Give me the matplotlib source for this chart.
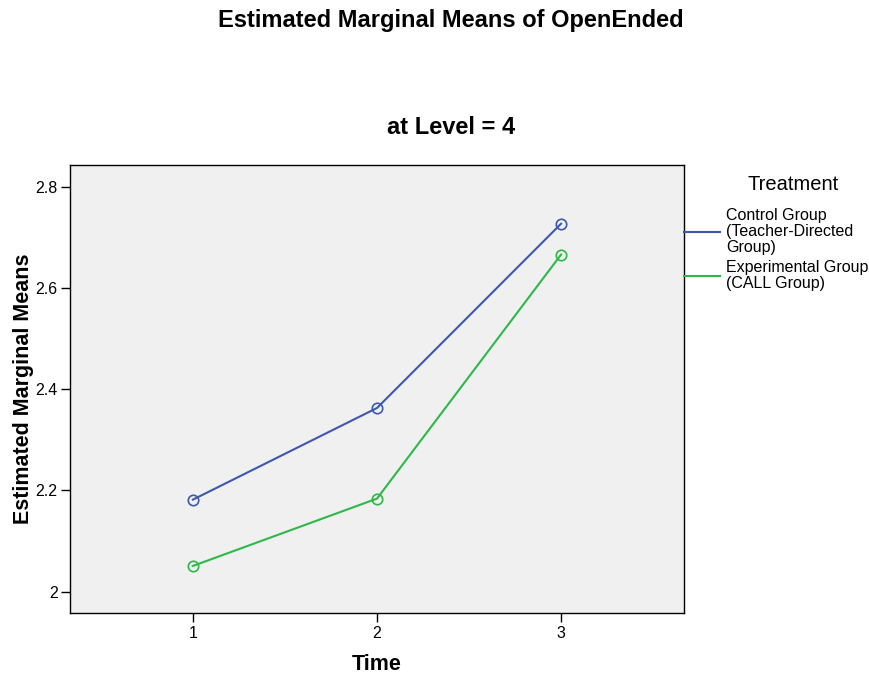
import matplotlib
matplotlib.use("Agg")
import matplotlib.pyplot as plt
from matplotlib.lines import Line2D

plt.rcParams["font.family"] = ["Liberation Sans", "DejaVu Sans"]

# data
time = [1, 2, 3]
control = [2.182, 2.363, 2.727]
experimental = [2.051, 2.184, 2.666]
labels = ["Control Group\n(Teacher-Directed\nGroup)", "Experimental Group\n(CALL Group)"]
colors = ["#3e58ac", "#2eb848"]
yticks = [2.0, 2.2, 2.4, 2.6, 2.8]
ytick_labels = ["2", "2.2", "2.4", "2.6", "2.8"]

fig = plt.figure(figsize=(8.69, 6.76), dpi=100)
ax = fig.add_axes([70/869, 63/676, 614/869, 448/676])
ax.set_facecolor("#f0f0f0")

handles = []
for vals, c in zip([control, experimental], colors):
    ax.plot(time, vals, color=c, lw=1.5, marker="o", markersize=7.5,
            markerfacecolor="none", markeredgecolor=c, markeredgewidth=1.2)
    handles.append(Line2D([], [], color=c, lw=1.5))

ax.set_xlim(0.332, 3.668)
ax.set_ylim(1.958, 2.843)
ax.set_xticks(time)
ax.set_xticklabels(["1", "2", "3"])
ax.set_yticks(yticks)
ax.set_yticklabels(ytick_labels)
ax.tick_params(axis="both", labelsize=11.5, length=6.5, width=1, direction="out", pad=2.5)
for s in ax.spines.values():
    s.set_linewidth(1)
    s.set_color("black")

ax.set_xlabel("Time", fontsize=15.5, fontweight="bold", labelpad=10)
ax.set_ylabel("Estimated Marginal Means", fontsize=15.5, fontweight="bold", labelpad=1)

fig.text(451/869, 1 - 20/676, "Estimated Marginal Means of OpenEnded",
         ha="center", va="center", fontsize=17, fontweight="bold")
fig.text(451/869, 1 - 127/676, "at Level = 4",
         ha="center", va="center", fontsize=17, fontweight="bold")
fig.text(793/869, 1 - 184/676, "Treatment", ha="center", va="center", fontsize=14.5)

leg = ax.legend(handles, labels, loc="upper left", bbox_to_anchor=(1.0, 0.903), frameon=False,
                fontsize=11.5, handlelength=2.25, handletextpad=0.4, borderpad=0,
                borderaxespad=0, labelspacing=0.3)
for t in leg.get_texts():
    t.set_linespacing(1.07)

fig.savefig("out.png", dpi=100)
